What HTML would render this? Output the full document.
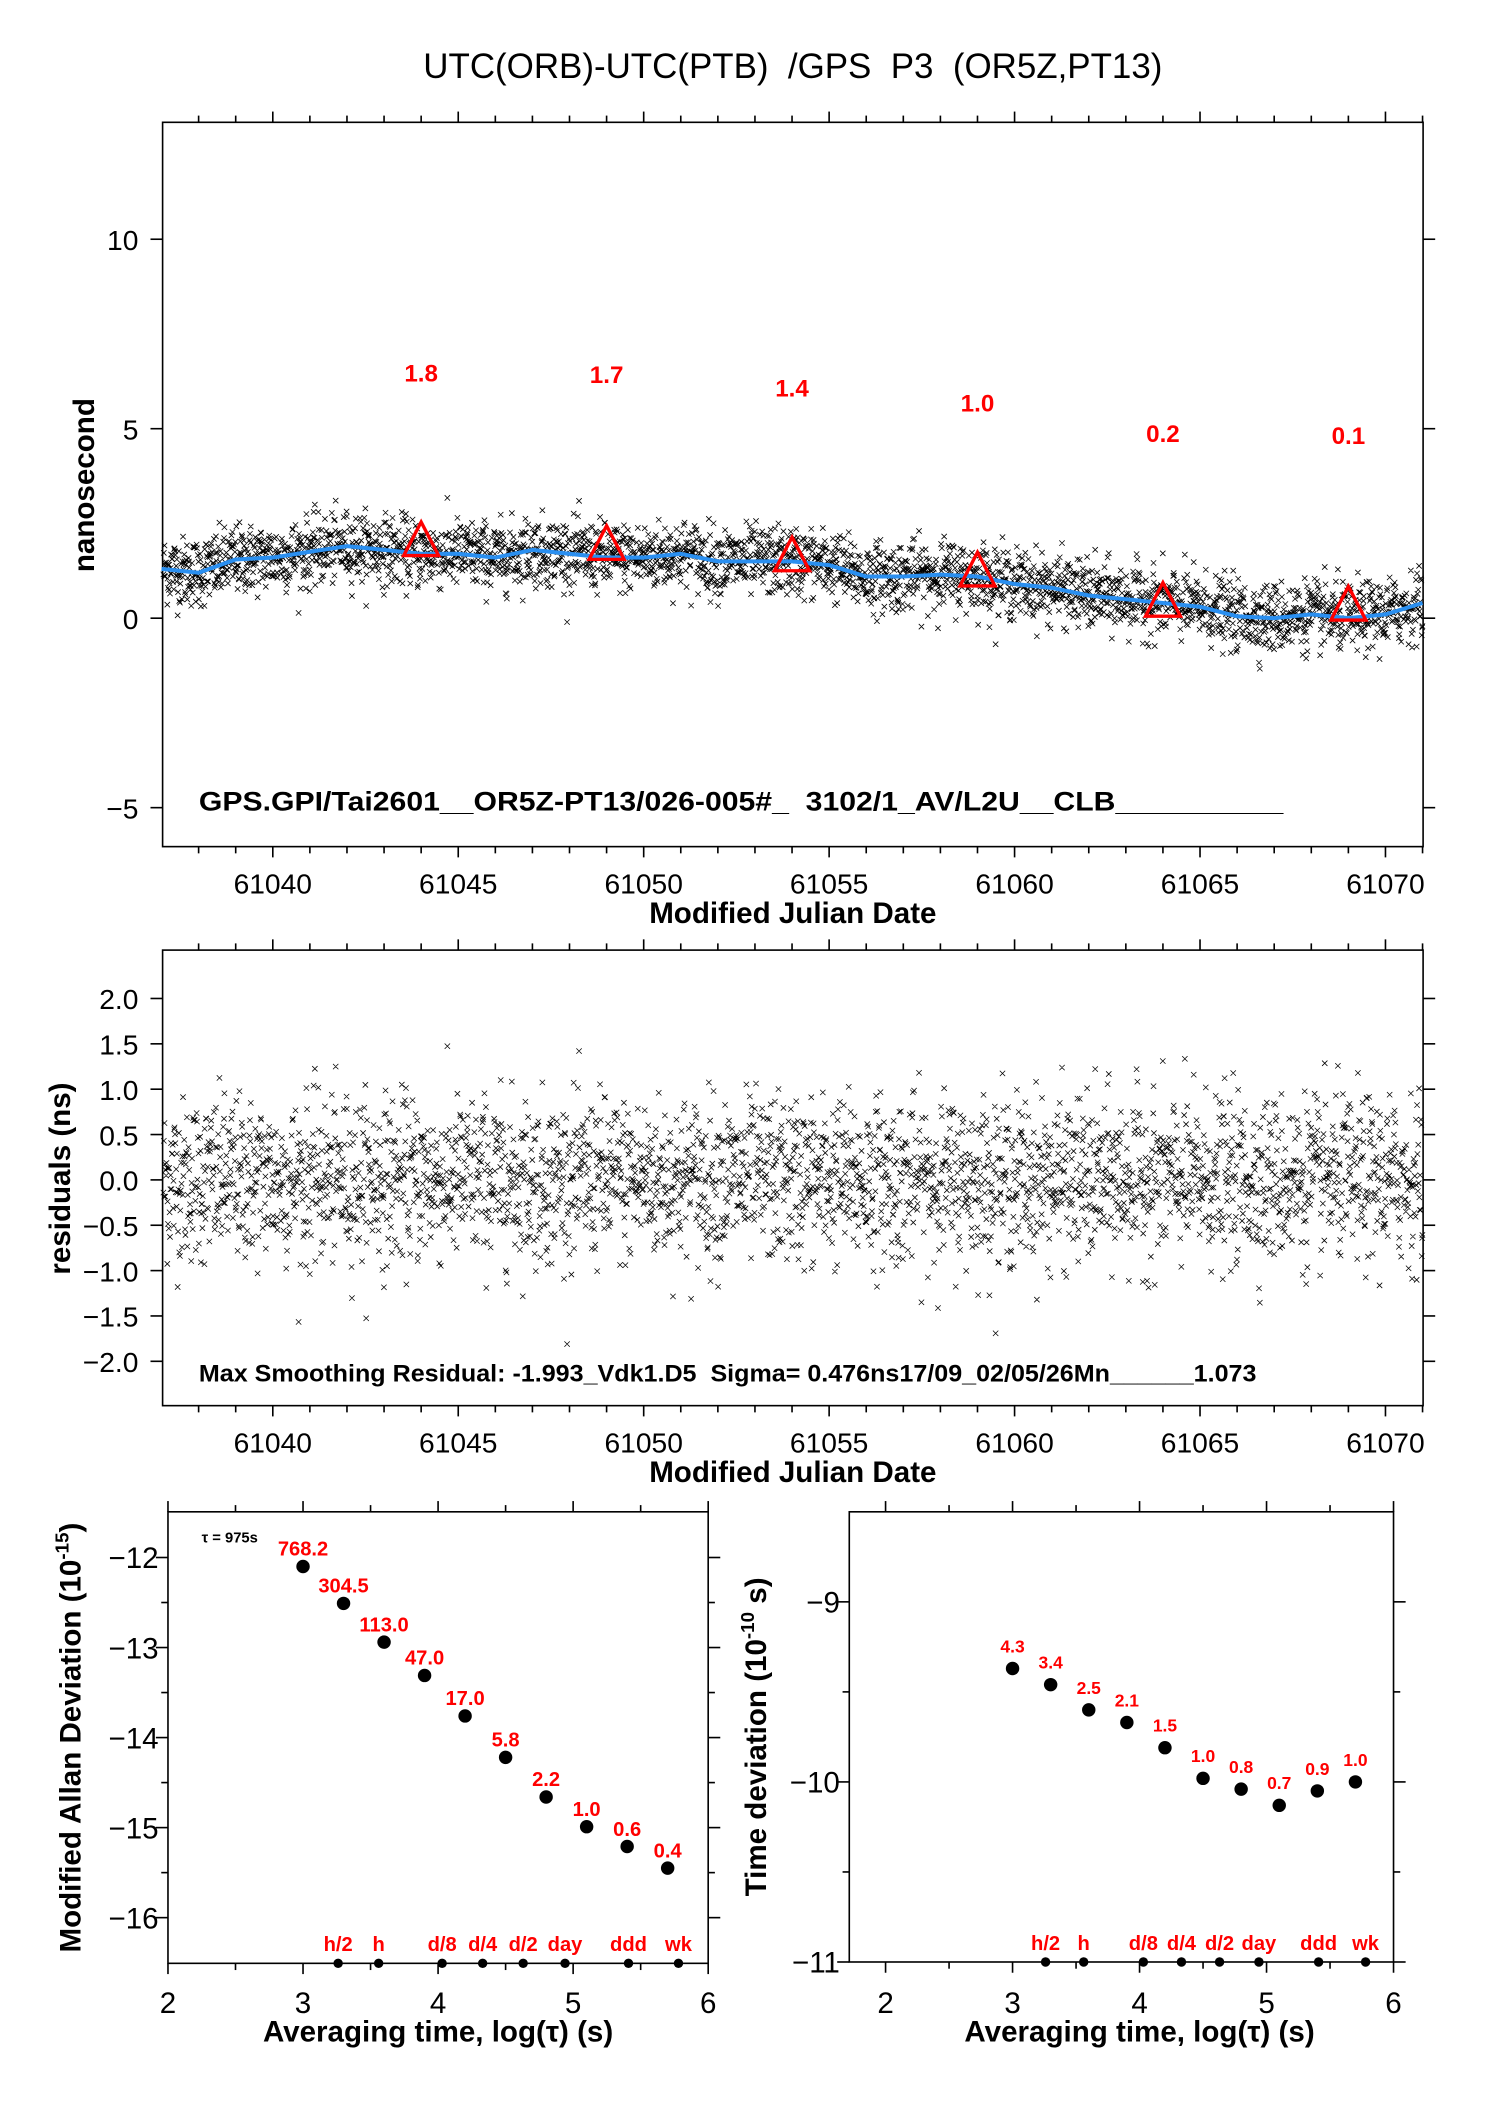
<!DOCTYPE html>
<html><head><meta charset="utf-8"><style>
html,body{margin:0;padding:0;background:#fff}
svg{display:block}
text{font-family:"Liberation Sans",sans-serif;white-space:pre}
</style></head><body>
<svg id="chart" width="1488" height="2105" viewBox="0 0 1107.3 1566.4" xmlns="http://www.w3.org/2000/svg">
<rect width="1107.3" height="1566.4" fill="#fff"/>
<text x="315" y="58" font-size="26" textLength="550" lengthAdjust="spacingAndGlyphs" xml:space="preserve">UTC(ORB)-UTC(PTB)  /GPS  P3  (OR5Z,PT13)</text>
<g id="p1"></g>
<g id="p2"></g>
<g id="p3"></g>
<g id="p4"></g>
</svg>
<script>
// ---- data ----
const smoothDays = [61037,61038,61039,61040,61041,61042,61043,61044,61045,61046,61047,61048,61049,61050,61051,61052,61053,61054,61055,61056,61057,61058,61059,61060,61061,61062,61063,61064,61065,61066,61067,61068,61069,61070,61071];
const smoothVals = [1.3,1.2,1.55,1.6,1.75,1.9,1.8,1.7,1.7,1.6,1.8,1.7,1.6,1.6,1.7,1.5,1.5,1.5,1.4,1.1,1.1,1.15,1.1,0.9,0.8,0.6,0.5,0.4,0.3,0.05,0.0,0.1,0.0,0.1,0.4];
const triDays = [61044,61049,61054,61059,61064,61069];
const triVals = [1.9,1.8,1.5,1.1,0.3,0.2];
const triLabels = ["1.8","1.7","1.4","1.0","0.2","0.1"];
const triLabelVals = [6.5,6.45,6.1,5.7,4.9,4.85];
const p1YTicks = [-5,0,5,10];
const mjdTicks = [61040,61045,61050,61055,61060,61065,61070];
const p2YTicks = [-2.0,-1.5,-1.0,-0.5,0.0,0.5,1.0,1.5,2.0];
const residualSigma = [0.45];
const tauLog = [3.0,3.3,3.6,3.9,4.2,4.5,4.8,5.1,5.4,5.7];
const madevVals = [-12.1,-12.51,-12.94,-13.31,-13.76,-14.22,-14.66,-14.99,-15.21,-15.45];
const madevLabels = ["768.2","304.5","113.0","47.0","17.0","5.8","2.2","1.0","0.6","0.4"];
const tdevVals = [-9.37,-9.46,-9.60,-9.67,-9.81,-9.98,-10.04,-10.13,-10.05,-10.0];
const tdevLabels = ["4.3","3.4","2.5","2.1","1.5","1.0","0.8","0.7","0.9","1.0"];
const markLog = [3.26,3.56,4.03,4.33,4.63,4.94,5.41,5.78];
const markLabels = ["h/2","h","d/8","d/4","d/2","day","ddd","wk"];
const logTicks = [2,3,4,5,6];
const madevTicks = [-16,-15,-14,-13,-12];
const tdevTicks = [-11,-10,-9];

const NS="http://www.w3.org/2000/svg";
function mk(parent,tag,attrs,txt){const e=document.createElementNS(NS,tag);for(const k in attrs)e.setAttribute(k,attrs[k]);if(txt!==undefined)e.textContent=txt;parent.appendChild(e);return e;}
function lin(d0,d1,r0,r1){return v=>r0+(v-d0)*(r1-r0)/(d1-d0);}

// deterministic noise (texture only)
let seed=12345;function rnd(){seed=(seed*1103515245+12345)%2147483648;return seed/2147483648;}
function gauss(){let u=rnd()||1e-9,v=rnd();return Math.sqrt(-2*Math.log(u))*Math.cos(2*Math.PI*v);}
function smoothAt(d){for(let i=0;i<smoothDays.length-1;i++){if(d<=smoothDays[i+1]){const t=(d-smoothDays[i]);return smoothVals[i]+(smoothVals[i+1]-smoothVals[i])*t;}}return smoothVals[smoothVals.length-1];}
const resid=[];const sampDays=[];
for(let d=61037.05;d<61071;d+=1/96){sampDays.push(d);resid.push(gauss()*residualSigma[0]);}

function frame(g,x0,y0,x1,y1){mk(g,'rect',{x:x0,y:y0,width:x1-x0,height:y1-y0,fill:'none',stroke:'#000','stroke-width':1.2});}
function tick(g,x1,y1,x2,y2){mk(g,'line',{x1,y1,x2,y2,stroke:'#000','stroke-width':1.2});}

// ---- panel 1 ----
(function(){
const g=document.getElementById('p1');
const L=121,R=1059,T=91,B=630;
const X=lin(61040,61070,203,1031), Y=lin(0,5,460,319);
frame(g,L,T,R,B);
for(let d=61038;d<=61071;d++){const x=X(d);const maj=mjdTicks.includes(d);tick(g,x,T,x,T-(maj?8:5));tick(g,x,B,x,B+(maj?8:5));}
mjdTicks.forEach(v=>{const t=mk(g,'text',{x:X(v),y:665,'font-size':21,'text-anchor':'middle'},String(v));});
p1YTicks.forEach(v=>{tick(g,L,Y(v),L-9,Y(v));tick(g,R,Y(v),R+9,Y(v));const t=mk(g,'text',{x:103,y:Y(v)+8,'font-size':21,'text-anchor':'end'},v<0?'\u2212'+(-v):String(v));});
const xt=mk(g,'text',{x:590,y:687,'font-size':22,'font-weight':'bold','text-anchor':'middle'},'Modified Julian Date');
const yt=mk(g,'text',{x:0,y:0,'font-size':22,'font-weight':'bold','text-anchor':'middle',transform:'translate(70,361) rotate(-90)'},'nanosecond');
let p='';const s=2;
sampDays.forEach((d,i)=>{const x=X(d),y=Y(smoothAt(d)+resid[i]);p+=`M${(x-s).toFixed(1)} ${(y-s).toFixed(1)}l${2*s} ${2*s}M${(x-s).toFixed(1)} ${(y+s).toFixed(1)}l${2*s} ${-2*s}`;});
const sc=mk(g,'path',{d:p,stroke:'#000','stroke-width':0.6,fill:'none'});
let lp='';smoothDays.forEach((d,i)=>{lp+=(i?'L':'M')+X(d).toFixed(1)+' '+Y(smoothVals[i]).toFixed(1);});
const ln=mk(g,'path',{d:lp,stroke:'#2a8ff0','stroke-width':3,fill:'none','stroke-linejoin':'round'});
triDays.forEach((d,i)=>{const x=X(d),y=Y(triVals[i]);const tr=mk(g,'path',{d:`M${x} ${y-18}L${x+13} ${y+7}L${x-13} ${y+7}Z`,fill:'none',stroke:'#f00','stroke-width':2.5});
const lb=mk(g,'text',{x:x,y:Y(triLabelVals[i])+7,'font-size':18,'font-weight':'bold',fill:'#f00','text-anchor':'middle'},triLabels[i]);});
const inf=mk(g,'text',{x:148,y:603,'font-size':20,'font-weight':'bold',textLength:807,lengthAdjust:'spacingAndGlyphs','xml:space':'preserve'},'GPS.GPI/Tai2601__OR5Z-PT13/026-005#_  3102/1_AV/L2U__CLB__________');
})();

// ---- panel 2 ----
(function(){
const g=document.getElementById('p2');
const L=121,R=1059,T=707,B=1046;
const X=lin(61040,61070,203,1031), Y=lin(0,2,878,743);
frame(g,L,T,R,B);
for(let d=61038;d<=61071;d++){const x=X(d);const maj=mjdTicks.includes(d);tick(g,x,T,x,T-(maj?8:5));tick(g,x,B,x,B+(maj?8:5));}
mjdTicks.forEach(v=>{const t=mk(g,'text',{x:X(v),y:1081,'font-size':21,'text-anchor':'middle'},String(v));});
p2YTicks.forEach(v=>{tick(g,L,Y(v),L-9,Y(v));tick(g,R,Y(v),R+9,Y(v));const t=mk(g,'text',{x:103,y:Y(v)+8,'font-size':21,'text-anchor':'end'},(v<0?'\u2212':'')+Math.abs(v).toFixed(1));});
const xt=mk(g,'text',{x:590,y:1103,'font-size':22,'font-weight':'bold','text-anchor':'middle'},'Modified Julian Date');
const yt=mk(g,'text',{x:0,y:0,'font-size':22,'font-weight':'bold','text-anchor':'middle',transform:'translate(52,877) rotate(-90)'},'residuals (ns)');
let p='';const s=2;
sampDays.forEach((d,i)=>{const x=X(d),y=Y(resid[i]);p+=`M${(x-s).toFixed(1)} ${(y-s).toFixed(1)}l${2*s} ${2*s}M${(x-s).toFixed(1)} ${(y+s).toFixed(1)}l${2*s} ${-2*s}`;});
const sc=mk(g,'path',{d:p,stroke:'#000','stroke-width':0.55,fill:'none'});
const inf=mk(g,'text',{x:148,y:1028,'font-size':18,'font-weight':'bold',textLength:787,lengthAdjust:'spacingAndGlyphs','xml:space':'preserve'},'Max Smoothing Residual: -1.993_Vdk1.D5  Sigma= 0.476ns17/09_02/05/26Mn______1.073');
})();

// ---- stability panels ----
function stab(id,L,R,T,B,x2,x6,yv0,yp0,yv1,yp1,yTicks,minorStep,vals,labels,ytitle,ytx,labOff,labSize,tauNote){
const g=document.getElementById(id);
const X=lin(2,6,x2,x6), Y=lin(yv0,yv1,yp0,yp1);
frame(g,L,T,R,B);
for(let v=2;v<=6.001;v+=0.5){const x=X(v);if(x<L-1||x>R+1)continue;const maj=Math.abs(v-Math.round(v))<1e-6;tick(g,x,T,x,T-(maj?8:5));tick(g,x,B,x,B+(maj?8:5));}
logTicks.forEach(v=>{const t=mk(g,'text',{x:X(v),y:1498,'font-size':22,'text-anchor':'middle'},String(v));});
for(let v=yTicks[0];v<=yTicks[yTicks.length-1]+1e-6;v+=minorStep){const y=Y(v);if(y<T-1||y>B+1)continue;const maj=Math.abs(v-Math.round(v))<1e-6;tick(g,L,y,L-(maj?9:5),y);tick(g,R,y,R+(maj?9:5),y);}
yTicks.forEach(v=>{const t=mk(g,'text',{x:L-7,y:Y(v)+8,'font-size':22,'text-anchor':'end'},'\u2212'+(-v));});
const xt=mk(g,'text',{x:(x2+x6)/2,y:1519,'font-size':22,'font-weight':'bold','text-anchor':'middle'},'Averaging time, log(\u03c4) (s)');
const yt=mk(g,'text',{x:0,y:0,'font-size':22,'font-weight':'bold','text-anchor':'middle',transform:`translate(${ytx},${(T+B)/2}) rotate(-90)`});
yt.innerHTML=ytitle;
tauLog.forEach((v,i)=>{const x=X(v),y=Y(vals[i]);const c=mk(g,'circle',{cx:x,cy:y,r:5,fill:'#000'});
const t=mk(g,'text',{x:x,y:y-labOff,'font-size':labSize,'font-weight':'bold',fill:'#f00','text-anchor':'middle'},labels[i]);});
markLog.forEach((v,i)=>{const x=X(v);const c=mk(g,'circle',{cx:x,cy:B,r:3.5,fill:'#000'});
const t=mk(g,'text',{x:x,y:B-9,'font-size':15,'font-weight':'bold',fill:'#f00','text-anchor':'middle'},markLabels[i]);});
if(tauNote){const t=mk(g,'text',{x:150,y:1148,'font-size':11,'font-weight':'bold'},'\u03c4 = 975s');}
}
stab('p3',125,527,1125,1461,125,527,-12,1159,-16,1427,madevTicks,0.5,madevVals,madevLabels,'Modified Allan Deviation (10<tspan font-size="14" dy="-9">-15</tspan><tspan dy="9">)</tspan>',60,8,15,true);
stab('p4',632,1037,1125,1460,659,1037,-9,1192,-11,1460,tdevTicks,0.5,tdevVals,tdevLabels,'Time deviation (10<tspan font-size="14" dy="-9">-10</tspan><tspan dy="9"> s)</tspan>',570,12,13,false);
</script>
</body></html>
